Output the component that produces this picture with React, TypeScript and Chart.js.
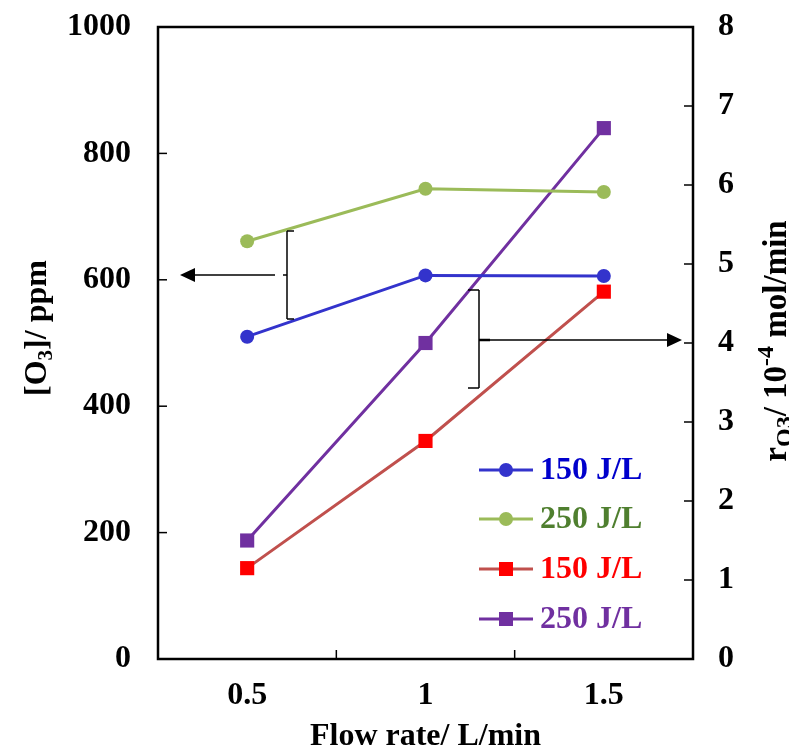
import React, { useEffect, useRef } from "react";
import { Chart, registerables } from "chart.js";

Chart.register(...registerables);

// ---- data ----
const flowRates = ["0.5", "1", "1.5"];
const o3ppm150 = [510, 607, 606];
const o3ppm250 = [661, 744, 739];
const rateO3_150 = [1.15, 2.76, 4.65];
const rateO3_250 = [1.5, 4.0, 6.72];
const seriesLabels = ["150 J/L", "250 J/L", "150 J/L", "250 J/L"];
const legendTextColors = ["#0000CC", "#4F7F2F", "#FF0000", "#7030A0"];
const xTitle = "Flow rate/ L/min";

const FONT = '"Liberation Serif", "Times New Roman", serif';
const FS = 32;

type Part = { t: string; k?: "sub" | "sup" };
const leftTitle: Part[] = [{ t: "[O" }, { t: "3", k: "sub" }, { t: "]/ ppm" }];
const rightTitle: Part[] = [
  { t: "r" },
  { t: "O", k: "sub" },
  { t: "3", k: "sub" },
  { t: "/ 10" },
  { t: "-4", k: "sup" },
  { t: " mol/min" },
];

function drawRich(ctx: CanvasRenderingContext2D, parts: Part[], cx: number, cy: number, size: number, subScale: number) {
  ctx.save();
  ctx.translate(cx, cy);
  ctx.rotate(-Math.PI / 2);
  ctx.fillStyle = "#000";
  ctx.textBaseline = "alphabetic";
  ctx.textAlign = "left";
  const fonts = parts.map((p) => `bold ${p.k ? Math.round(size * subScale) : size}px ${FONT}`);
  let total = 0;
  const widths = parts.map((p, i) => {
    ctx.font = fonts[i];
    const w = ctx.measureText(p.t).width;
    total += w;
    return w;
  });
  let x = -total / 2;
  const base = size * 0.33;
  parts.forEach((p, i) => {
    ctx.font = fonts[i];
    const dy = p.k === "sub" ? size * 0.2 : p.k === "sup" ? -size * 0.38 : 0;
    ctx.fillText(p.t, x, base + dy);
    x += widths[i];
  });
  ctx.restore();
}

function arrowHead(ctx: CanvasRenderingContext2D, tipX: number, y: number, dir: number) {
  ctx.beginPath();
  ctx.moveTo(tipX, y);
  ctx.lineTo(tipX - dir * 15, y - 7);
  ctx.lineTo(tipX - dir * 15, y + 7);
  ctx.closePath();
  ctx.fill();
}

const decorPlugin = {
  id: "decor",
  afterDraw(chart: any) {
    const { ctx, chartArea: a, scales } = chart;
    const T = 9;
    ctx.save();
    ctx.strokeStyle = "#000";
    ctx.fillStyle = "#000";
    ctx.lineWidth = 1.5;
    const seg = (x1: number, y1: number, x2: number, y2: number) => {
      ctx.beginPath();
      ctx.moveTo(x1, y1);
      ctx.lineTo(x2, y2);
      ctx.stroke();
    };
    // tick marks (inside)
    const ys = scales.y;
    ys.ticks.forEach((_t: any, i: number) => {
      const p = ys.getPixelForTick(i);
      seg(a.left, p, a.left + T, p);
    });
    const y1s = scales.y1;
    y1s.ticks.forEach((_t: any, i: number) => {
      const p = y1s.getPixelForTick(i);
      seg(a.right - T, p, a.right, p);
    });
    const xs = scales.x;
    for (let i = 0; i < xs.ticks.length - 1; i++) {
      const p = (xs.getPixelForTick(i) + xs.getPixelForTick(i + 1)) / 2;
      seg(p, a.bottom, p, a.bottom - T);
    }
    // frame
    ctx.lineWidth = 2.5;
    ctx.strokeRect(a.left, a.top, a.right - a.left, a.bottom - a.top);

    // brackets + arrows
    ctx.lineWidth = 1.5;
    // left bracket (points to left axis)
    const lbx = a.left + 129;
    const lTop = a.top + 204, lBot = a.top + 292, lMid = a.top + 248;
    seg(lbx, lTop, lbx, lBot);
    seg(lbx, lTop, lbx + 7, lTop);
    seg(lbx, lBot, lbx + 7, lBot);
    seg(lbx - 4, lMid, lbx, lMid);
    seg(a.left + 117, lMid, a.left + 36, lMid);
    arrowHead(ctx, a.left + 22, lMid, -1);
    // right bracket (points to right axis)
    const rbx = a.left + 321;
    const rTop = a.top + 263, rBot = a.top + 361, rMid = a.top + 313;
    seg(rbx, rTop, rbx, rBot);
    seg(rbx, rTop, rbx - 11, rTop);
    seg(rbx, rBot, rbx - 11, rBot);
    ctx.lineWidth = 2.5;
    seg(rbx, rMid, rbx + 11, rMid);
    ctx.lineWidth = 1.5;
    seg(rbx, rMid, a.right - 23, rMid);
    arrowHead(ctx, a.right - 11, rMid, 1);

    // legend
    const rowsFromBottom = [189, 140, 90, 40];
    chart.data.datasets.forEach((ds: any, i: number) => {
      const y = a.bottom - rowsFromBottom[i];
      const x0 = a.left + 321, x1 = a.left + 375, xm = a.left + 348;
      ctx.strokeStyle = ds.borderColor;
      ctx.lineWidth = 3;
      seg(x0, y, x1, y);
      ctx.fillStyle = ds.pointBackgroundColor;
      if (ds.pointStyle === "rect") {
        ctx.fillRect(xm - 7, y - 7, 14, 14);
      } else {
        ctx.beginPath();
        ctx.arc(xm, y, 7, 0, Math.PI * 2);
        ctx.fill();
      }
      ctx.fillStyle = legendTextColors[i];
      ctx.font = `bold ${FS}px ${FONT}`;
      ctx.textBaseline = "middle";
      ctx.textAlign = "left";
      ctx.fillText(ds.label, a.left + 382, y + 1);
    });

    // axis titles
    drawRich(ctx, leftTitle, 35, 328, FS, 0.65);
    drawRich(ctx, rightTitle, 775, 341, 33, 0.72);
    ctx.restore();
  },
};

const noPad = (s: any) => {
  s.paddingTop = 0;
  s.paddingBottom = 0;
  s.paddingLeft = 0;
  s.paddingRight = 0;
};

export default function App() {
  const ref = useRef<HTMLCanvasElement | null>(null);
  useEffect(() => {
    if (!ref.current) return;
    const tickFont = { family: FONT, size: FS, weight: "bold" as const };
    const plain = (v: any) => String(v);
    const chart = new Chart(ref.current, {
      type: "line",
      data: {
        labels: flowRates,
        datasets: [
          {
            label: seriesLabels[0],
            data: o3ppm150,
            yAxisID: "y",
            borderColor: "#3333CC",
            backgroundColor: "#3333CC",
            pointBackgroundColor: "#3333CC",
            pointBorderWidth: 0,
            pointStyle: "circle",
            pointRadius: 7,
            borderWidth: 3,
          },
          {
            label: seriesLabels[1],
            data: o3ppm250,
            yAxisID: "y",
            borderColor: "#9BBB59",
            backgroundColor: "#9BBB59",
            pointBackgroundColor: "#9BBB59",
            pointBorderWidth: 0,
            pointStyle: "circle",
            pointRadius: 7,
            borderWidth: 3,
          },
          {
            label: seriesLabels[2],
            data: rateO3_150,
            yAxisID: "y1",
            borderColor: "#C0504D",
            backgroundColor: "#FF0000",
            pointBackgroundColor: "#FF0000",
            pointBorderWidth: 0,
            pointStyle: "rect",
            pointRadius: 10,
            borderWidth: 3,
          },
          {
            label: seriesLabels[3],
            data: rateO3_250,
            yAxisID: "y1",
            borderColor: "#7030A0",
            backgroundColor: "#7030A0",
            pointBackgroundColor: "#7030A0",
            pointBorderWidth: 0,
            pointStyle: "rect",
            pointRadius: 10,
            borderWidth: 3,
          },
        ],
      },
      options: {
        animation: false,
        responsive: false,
        maintainAspectRatio: false,
        layout: { padding: { top: 27, left: 0, right: 0, bottom: 0 } },
        plugins: { legend: { display: false }, tooltip: { enabled: false } },
        scales: {
          x: {
            type: "category",
            offset: true,
            grid: { display: false, drawTicks: false },
            border: { display: false },
            ticks: { font: tickFont, color: "#000", padding: 18 },
            title: {
              display: true,
              text: xTitle,
              font: tickFont,
              color: "#000",
              padding: { top: 0, bottom: 0 },
            },
            afterFit: (s: any) => {
              s.height = 97;
              noPad(s);
            },
          },
          y: {
            position: "left",
            min: 0,
            max: 1000,
            grid: { display: false, drawTicks: false },
            border: { display: false },
            ticks: { stepSize: 200, font: tickFont, color: "#000", padding: 27, callback: plain },
            afterFit: (s: any) => {
              s.width = 158;
              noPad(s);
            },
          },
          y1: {
            position: "right",
            min: 0,
            max: 8,
            grid: { display: false, drawTicks: false },
            border: { display: false },
            ticks: { stepSize: 1, font: tickFont, color: "#000", padding: 25, callback: plain },
            afterFit: (s: any) => {
              s.width = 96;
              noPad(s);
            },
          },
        },
      },
      plugins: [decorPlugin],
    });
    return () => chart.destroy();
  }, []);
  return (
    <div style={{ position: "absolute", left: 0, top: 0, width: 789, height: 756, background: "#fff" }}>
      <canvas ref={ref} width={789} height={756} style={{ width: 789, height: 756, display: "block" }} />
    </div>
  );
}
